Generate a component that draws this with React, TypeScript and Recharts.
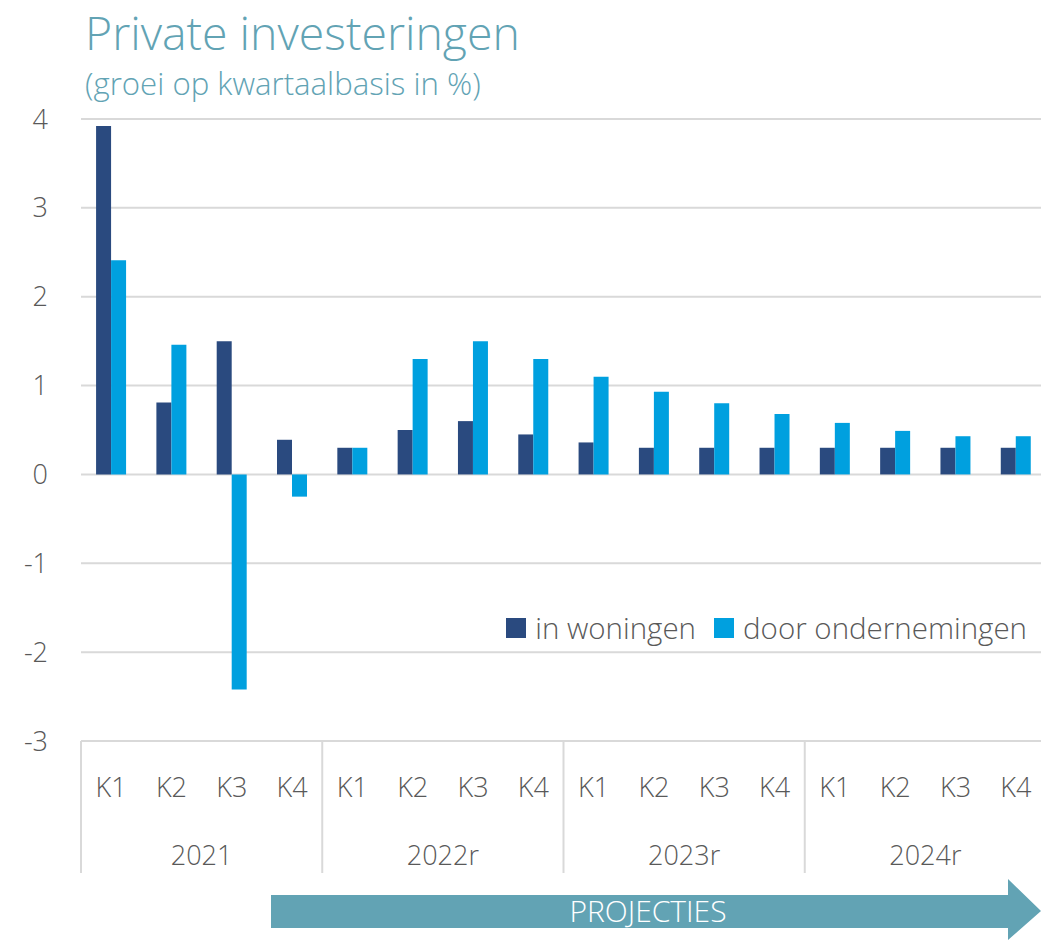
import { BarChart, Bar, XAxis, YAxis, CartesianGrid } from "recharts";

const quarters = ["K1", "K2", "K3", "K4", "K1", "K2", "K3", "K4", "K1", "K2", "K3", "K4", "K1", "K2", "K3", "K4"];
const years = ["2021", "2021", "2021", "2021", "2022r", "2022r", "2022r", "2022r", "2023r", "2023r", "2023r", "2023r", "2024r", "2024r", "2024r", "2024r"];
const woningen = [3.92, 0.81, 1.5, 0.39, 0.3, 0.5, 0.6, 0.45, 0.36, 0.3, 0.3, 0.3, 0.3, 0.3, 0.3, 0.3];
const ondernemingen = [2.41, 1.46, -2.42, -0.25, 0.3, 1.3, 1.5, 1.3, 1.1, 0.93, 0.8, 0.68, 0.58, 0.49, 0.43, 0.43];
const yTicks = [-3, -2, -1, 0, 1, 2, 3, 4];

const data = quarters.map((q, i) => ({ q, year: years[i], woningen: woningen[i], ondernemingen: ondernemingen[i] }));

const FONT = "'Open Sans', sans-serif";
const GREY = "#595959";
const TEAL = "#62a3b4";
const DARK = "#2a4a7f";
const LIGHT = "#00a0df";

const QuarterTick = ({ x, y, payload }: any) => (
  <text x={x} y={y + 56} textAnchor="middle" fontFamily={FONT} fontWeight={300} fontSize={27} fill={GREY}>
    {payload.value}
  </text>
);

const YearTick = ({ x, y, payload, index, visibleTicksCount }: any) => {
  const half = payload.offset || 120;
  return (
    <g>
      <line x1={x - half} x2={x - half} y1={y - 70} y2={y + 62} stroke="#d9d9d9" strokeWidth={2} />
      {index === visibleTicksCount - 1 && (
        <line x1={x + half - 1} x2={x + half - 1} y1={y - 70} y2={y + 62} stroke="#d9d9d9" strokeWidth={2} />
      )}
      <text x={x} y={y + 54} textAnchor="middle" fontFamily={FONT} fontWeight={300} fontSize={27} fill={GREY}>
        {payload.value}
      </text>
    </g>
  );
};

export default function App() {
  return (
    <div style={{ position: "absolute", left: 0, top: 0, width: 1041, height: 940, background: "#fff", overflow: "hidden" }}>
      <div style={{ position: "absolute", left: 85, top: 0, fontFamily: FONT, fontWeight: 300, fontSize: 46.4, color: TEAL, lineHeight: "64px" }}>
        Private investeringen
      </div>
      <div style={{ position: "absolute", left: 85, top: 65, fontFamily: FONT, fontWeight: 300, fontSize: 31.2, color: TEAL, lineHeight: "37px" }}>
        (groei op kwartaalbasis in %)
      </div>
      <BarChart
        width={1046}
        height={940}
        data={data}
        margin={{ top: 119, right: 0, left: 0, bottom: 67 }}
        barCategoryGap="25%"
        barGap={0}
      >
        <CartesianGrid vertical={false} stroke="#d9d9d9" strokeWidth={2} />
        <XAxis dataKey="q" height={70} tickLine={false} axisLine={false} tickSize={0} tickMargin={0} tick={<QuarterTick />} interval={0} />
        <XAxis
          xAxisId="year"
          dataKey="year"
          allowDuplicatedCategory={false}
          height={62}
          tickLine={false}
          axisLine={false}
          tickSize={0}
          tickMargin={0}
          tick={<YearTick />}
          interval={0}
        />
        <YAxis
          domain={[-3, 4]}
          ticks={yTicks}
          width={81}
          axisLine={false}
          tickLine={false}
          tickSize={0}
          tickMargin={33}
          tick={{ fontFamily: FONT, fontWeight: 300, fontSize: 27, fill: GREY }}
        />
        <Bar dataKey="woningen" name="in woningen" fill={DARK} isAnimationActive={false} />
        <Bar dataKey="ondernemingen" name="door ondernemingen" fill={LIGHT} isAnimationActive={false} />
      </BarChart>
      <div
        style={{
          position: "absolute",
          top: 607,
          right: 14,
          display: "flex",
          alignItems: "center",
          fontFamily: FONT,
          fontWeight: 300,
          fontSize: 29.5,
          color: GREY,
          lineHeight: "42px",
        }}
      >
        <span style={{ width: 20, height: 20, background: DARK, marginRight: 9 }} />
        <span style={{ marginRight: 18 }}>in woningen</span>
        <span style={{ width: 20, height: 20, background: LIGHT, marginRight: 9 }} />
        <span>door ondernemingen</span>
      </div>
      <svg style={{ position: "absolute", left: 0, top: 0 }} width={1041} height={940}>
        <polygon points="271,895 1008,895 1008,879 1041,911 1008,940 1008,928 271,928" fill={TEAL} />
        <text x={648} y={922} textAnchor="middle" fontFamily={FONT} fontWeight={300} fontSize={30} fill="#fff">
          PROJECTIES
        </text>
      </svg>
    </div>
  );
}
